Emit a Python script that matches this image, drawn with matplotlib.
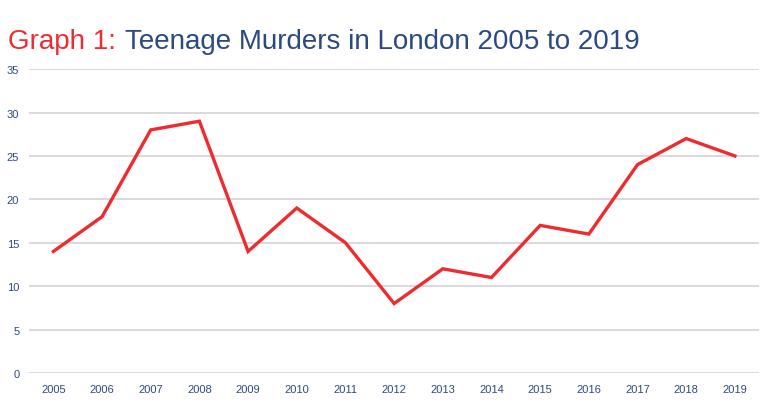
import matplotlib.pyplot as plt

years = [2005, 2006, 2007, 2008, 2009, 2010, 2011, 2012, 2013, 2014, 2015, 2016, 2017, 2018, 2019]
murders = [14, 18, 28, 29, 14, 19, 15, 8, 12, 11, 17, 16, 24, 27, 25]
y_ticks = [0, 5, 10, 15, 20, 25, 30, 35]

plt.rcParams['font.family'] = ['Liberation Sans', 'DejaVu Sans']

red = '#ee2b2f'
blue = '#2b4a80'

fig = plt.figure(figsize=(7.7, 4.1), dpi=100)
ax = fig.add_axes([0.0377, 0.0878, 0.9483, 0.7412])

x = list(range(len(years)))
ax.plot(x, murders, color=red, linewidth=2.4, solid_joinstyle='miter')

ax.set_xlim(-0.5, len(years) - 0.5)
ax.set_ylim(0, 35)
ax.set_yticks(y_ticks)
ax.set_xticks(x)
ax.set_xticklabels([str(y) for y in years])
ax.tick_params(axis='both', length=0, labelsize=8, labelcolor=blue)
ax.tick_params(axis='y', pad=7)
ax.tick_params(axis='x', pad=8)

ax.grid(axis='y', color='#d9d9d9', linewidth=1.4)
ax.set_axisbelow(True)
for s in ax.spines.values():
    s.set_visible(False)

fig.text(0.010, 0.898, 'Graph 1:', color=red, fontsize=20, va='center')
fig.text(0.1623, 0.898, 'Teenage Murders in London 2005 to 2019', color=blue, fontsize=20, va='center')

fig.savefig('out.png', dpi=100)
